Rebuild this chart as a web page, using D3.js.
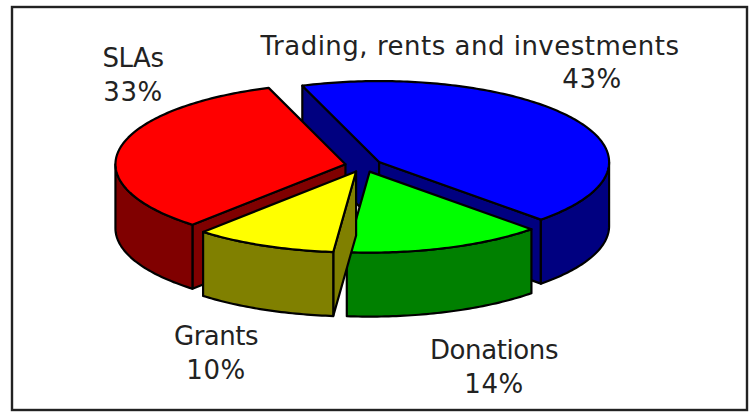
<!DOCTYPE html>
<html>
<head>
<meta charset="utf-8">
<script src="https://cdn.jsdelivr.net/npm/d3@7"></script>
<style>
    html, body { margin: 0; padding: 0; background: #fff; }
    svg { display: block; }
    text { font-family: "DejaVu Sans", sans-serif; font-size: 26px; fill: #222; }
</style>
</head>
<body>
<div id="chart"></div>
<script>
// values, clockwise from the big blue slice
const categories = ['Trading, rents and investments', 'Donations', 'Grants', 'SLAs'];
const shares = [43, 14, 10, 33];
const topColours = ['#0000ff', '#00ff00', '#ffff00', '#ff0000'];
const sideColours = ['#000080', '#008000', '#808000', '#800000'];
// name x, name baseline, name tracking, percent x, percent baseline
const labelSpots = [
    [470, 55, 0.5, 592, 88],
    [494, 359, -0.4, 494, 393],
    [216, 345, -0.5, 216, 379],
    [133, 67, -0.5, 133, 101]
];

const width = 752, height = 412;
const startAngle = -19.5 * Math.PI / 180;
const explode = 0.08;
const depth = 64;

// tilted pie: unit circle squashed to an ellipse
const scaleX = d3.scaleLinear([-1, 1], [363.5 - 230, 363.5 + 230]);
const scaleY = d3.scaleLinear([-1, 1], [165.5 - 81, 165.5 + 81]);

const svg = d3.select('#chart')
    .append('svg')
    .attr('width', width)
    .attr('height', height);

svg.append('rect')
    .attr('x', 12)
    .attr('y', 7)
    .attr('width', 735)
    .attr('height', 403)
    .attr('fill', '#fff')
    .attr('stroke', '#222')
    .attr('stroke-width', 2.4);

const slices = d3.pie()
    .sort(null)
    .startAngle(startAngle)
    .endAngle(startAngle + 2 * Math.PI)(shares);

const line = d3.line().curve(d3.curveLinear);

// unit circle position -> screen, a = clockwise from top
function project(a, r, mid, drop = 0) {
    return [
        scaleX(r * Math.sin(a) + explode * Math.sin(mid)),
        scaleY(-r * Math.cos(a) - explode * Math.cos(mid)) + drop
    ];
}

function rimPoints(a0, a1, mid, drop) {
    const n = Math.max(2, Math.ceil((a1 - a0) * 60));
    return d3.range(n + 1).map(i => project(a0 + (a1 - a0) * i / n, 1, mid, drop));
}

function wall(a, mid) {
    return [project(a, 1, mid), project(0, 0, mid), project(0, 0, mid, depth), project(a, 1, mid, depth)];
}

const draw = [0, 3, 1, 2]; // back to front
const groups = svg.selectAll('g.slice')
    .data(draw.map(i => ({ ...slices[i], i })))
    .join('g')
    .classed('slice', true)
    .attr('stroke', '#000')
    .attr('stroke-width', 2.2)
    .attr('stroke-linejoin', 'round');

groups.each(function (d) {
    const g = d3.select(this);
    const mid = (d.startAngle + d.endAngle) / 2;
    const side = sideColours[d.i];

    // cut faces, only the ones turned towards the viewer
    if (Math.cos(d.startAngle - Math.PI / 2) < 0) {
        g.append('path').attr('d', line(wall(d.startAngle, mid)) + 'Z').attr('fill', side);
    }
    if (Math.cos(d.endAngle + Math.PI / 2) < 0) {
        g.append('path').attr('d', line(wall(d.endAngle, mid)) + 'Z').attr('fill', side);
    }

    // outer rim, front half of the ellipse only
    const a0 = Math.max(d.startAngle, Math.PI / 2);
    const a1 = Math.min(d.endAngle, 3 * Math.PI / 2);
    if (a1 > a0) {
        const rim = rimPoints(a0, a1, mid, 0).concat(rimPoints(a0, a1, mid, depth).reverse());
        g.append('path').attr('d', line(rim) + 'Z').attr('fill', side);
    }

    const top = [project(0, 0, mid)].concat(rimPoints(d.startAngle, d.endAngle, mid, 0));
    g.append('path').attr('d', line(top) + 'Z').attr('fill', topColours[d.i]);
});

// labels
const labels = svg.selectAll('g.label')
    .data(categories)
    .join('g')
    .classed('label', true)
    .attr('text-anchor', 'middle');

labels.append('text')
    .attr('x', (d, i) => labelSpots[i][0])
    .attr('y', (d, i) => labelSpots[i][1])
    .style('letter-spacing', (d, i) => `${labelSpots[i][2]}px`)
    .text(d => d);

labels.append('text')
    .attr('x', (d, i) => labelSpots[i][3])
    .attr('y', (d, i) => labelSpots[i][4])
    .style('letter-spacing', '0.5px')
    .text((d, i) => `${shares[i]}%`);
</script>
</body>
</html>
